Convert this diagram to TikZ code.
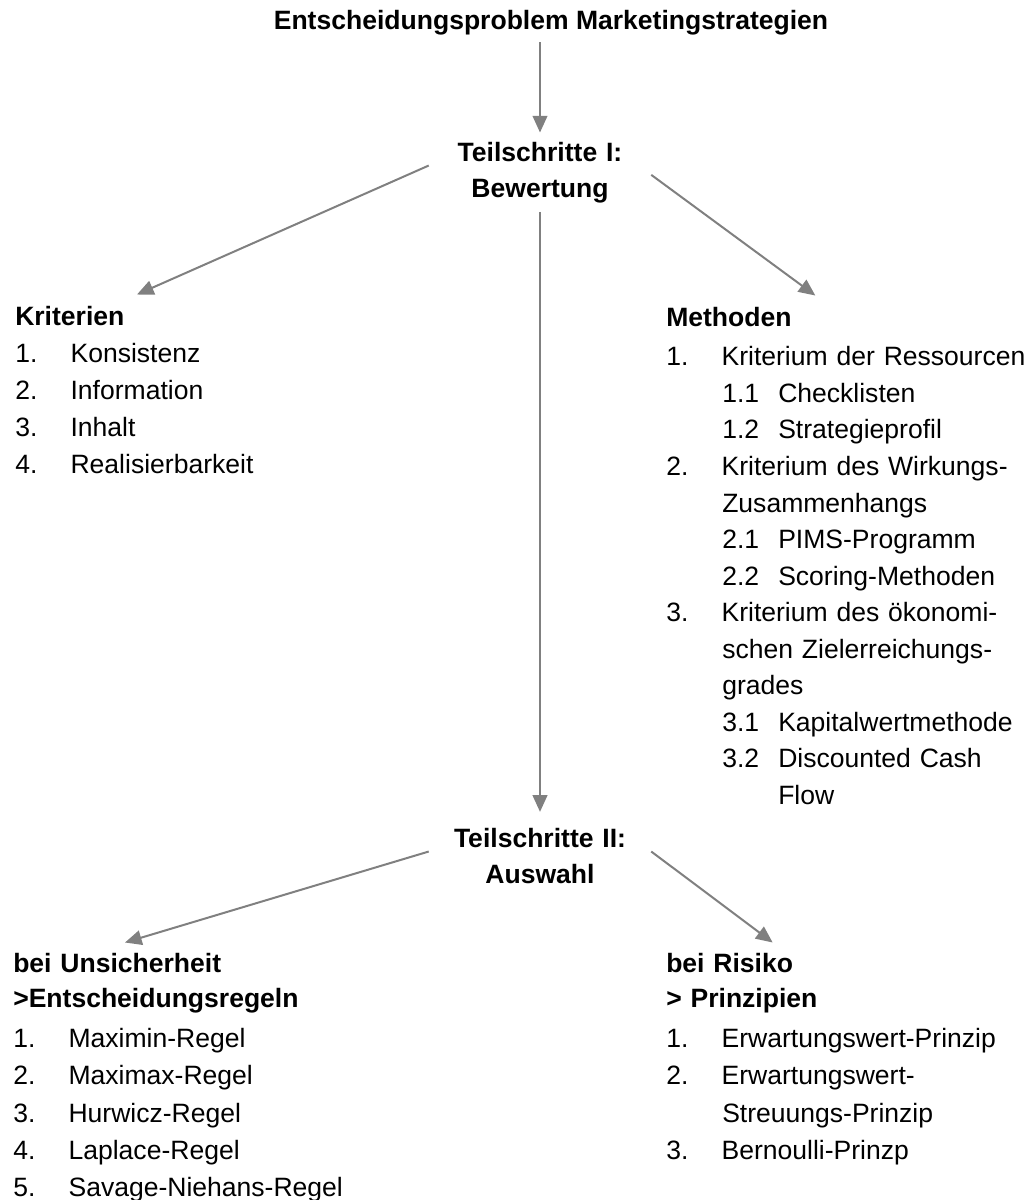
\documentclass[tikz,border=0pt]{standalone}
\usepackage{fontspec}
\setmainfont{Liberation Sans}
\usepackage{tikz}
\usetikzlibrary{positioning,arrows.meta,calc}
\definecolor{pfeilgrau}{RGB}{128,128,128}
\newcommand{\nr}[1]{\makebox[41.5pt][l]{#1}}
\newcommand{\unr}[1]{\hspace*{42pt}\makebox[42pt][l]{#1}}
\newcommand{\ein}{\hspace*{42pt}}

\begin{document}
\begin{tikzpicture}[x=0.75pt, y=-0.75pt,
    pfeil/.style={draw=pfeilgrau, line width=1.5pt, -{Triangle[length=12.5pt,width=11pt]}},
    schritt/.style={font=\fontsize{19.9}{27}\selectfont\bfseries, align=center, text width=150pt, inner xsep=8.25pt, inner ysep=6.75pt, anchor=base},
    liste/.style={font=\fontsize{19.9}{27.9}\selectfont, align=left, text width=300pt, inner sep=0pt, anchor=base west}]
  \useasboundingbox (0,0) rectangle (1030,1200);

  \node[font=\fontsize{19.9}{27}\selectfont\bfseries, anchor=base, inner sep=0pt] (titel) at (551,29) {Entscheidungsproblem Marketingstrategien};

  \node[schritt] (schritt1) at (540,161) {Teilschritte I:\\Bewertung};
  \node[schritt] (schritt2) at (540,847) {Teilschritte II:\\Auswahl};

  % Bewertung
  \node[liste] (kriterien) at (15,325) {
    \textbf{Kriterien}\\
    \nr{1.}Konsistenz\\
    \nr{2.}Information\\
    \nr{3.}Inhalt\\
    \nr{4.}Realisierbarkeit
  };
  \node[liste, font=\fontsize{19.9}{27.4}\selectfont] (methoden) at (666,326) {
    \textbf{Methoden}\\[2.5pt]
    \nr{1.}Kriterium der Ressourcen\\
    \unr{1.1}Checklisten\\
    \unr{1.2}Strategieprofil\\
    \nr{2.}Kriterium des Wirkungs-\\
    \ein Zusammenhangs\\
    \unr{2.1}PIMS-Programm\\
    \unr{2.2}Scoring-Methoden\\
    \nr{3.}Kriterium des ökonomi-\\
    \ein schen Zielerreichungs-\\
    \ein grades\\
    \unr{3.1}Kapitalwertmethode\\
    \unr{3.2}Discounted Cash\\
    \ein\ein Flow
  };

  % Auswahl
  \node[liste] (unsicher) at (13,972) {
    \textbf{bei Unsicherheit}\\[-1.5pt]
    \textbf{>Entscheidungsregeln}\\[2.5pt]
    \nr{1.}Maximin-Regel\\
    \nr{2.}Maximax-Regel\\
    \nr{3.}Hurwicz-Regel\\
    \nr{4.}Laplace-Regel\\
    \nr{5.}Savage-Niehans-Regel
  };
  \node[liste] (risiko) at (666,972) {
    \textbf{bei Risiko}\\[-1.5pt]
    \textbf{> Prinzipien}\\[2.5pt]
    \nr{1.}Erwartungswert-Prinzip\\
    \nr{2.}Erwartungswert-\\
    \ein Streuungs-Prinzip\\
    \nr{3.}Bernoulli-Prinzp
  };

  \draw[pfeil] ($(titel.south -| schritt1.north)+(0,7.5)$) -- (schritt1.north);
  \draw[pfeil] ([yshift=5pt]schritt1.west) -- ([xshift=91.5pt,yshift=8.25pt]kriterien.north west);
  \draw[pfeil] ([yshift=-2pt]schritt1.east) -- ([xshift=112pt,yshift=8.25pt]methoden.north west);
  \draw[pfeil] (schritt1.south) -- ([yshift=5pt]schritt2.north);
  \draw[pfeil] ([yshift=3pt]schritt2.west) -- ([xshift=84pt,yshift=7.5pt]unsicher.north west);
  \draw[pfeil] ([yshift=3pt]schritt2.east) -- ([xshift=80pt,yshift=7.5pt]risiko.north west);
\end{tikzpicture}
\end{document}
